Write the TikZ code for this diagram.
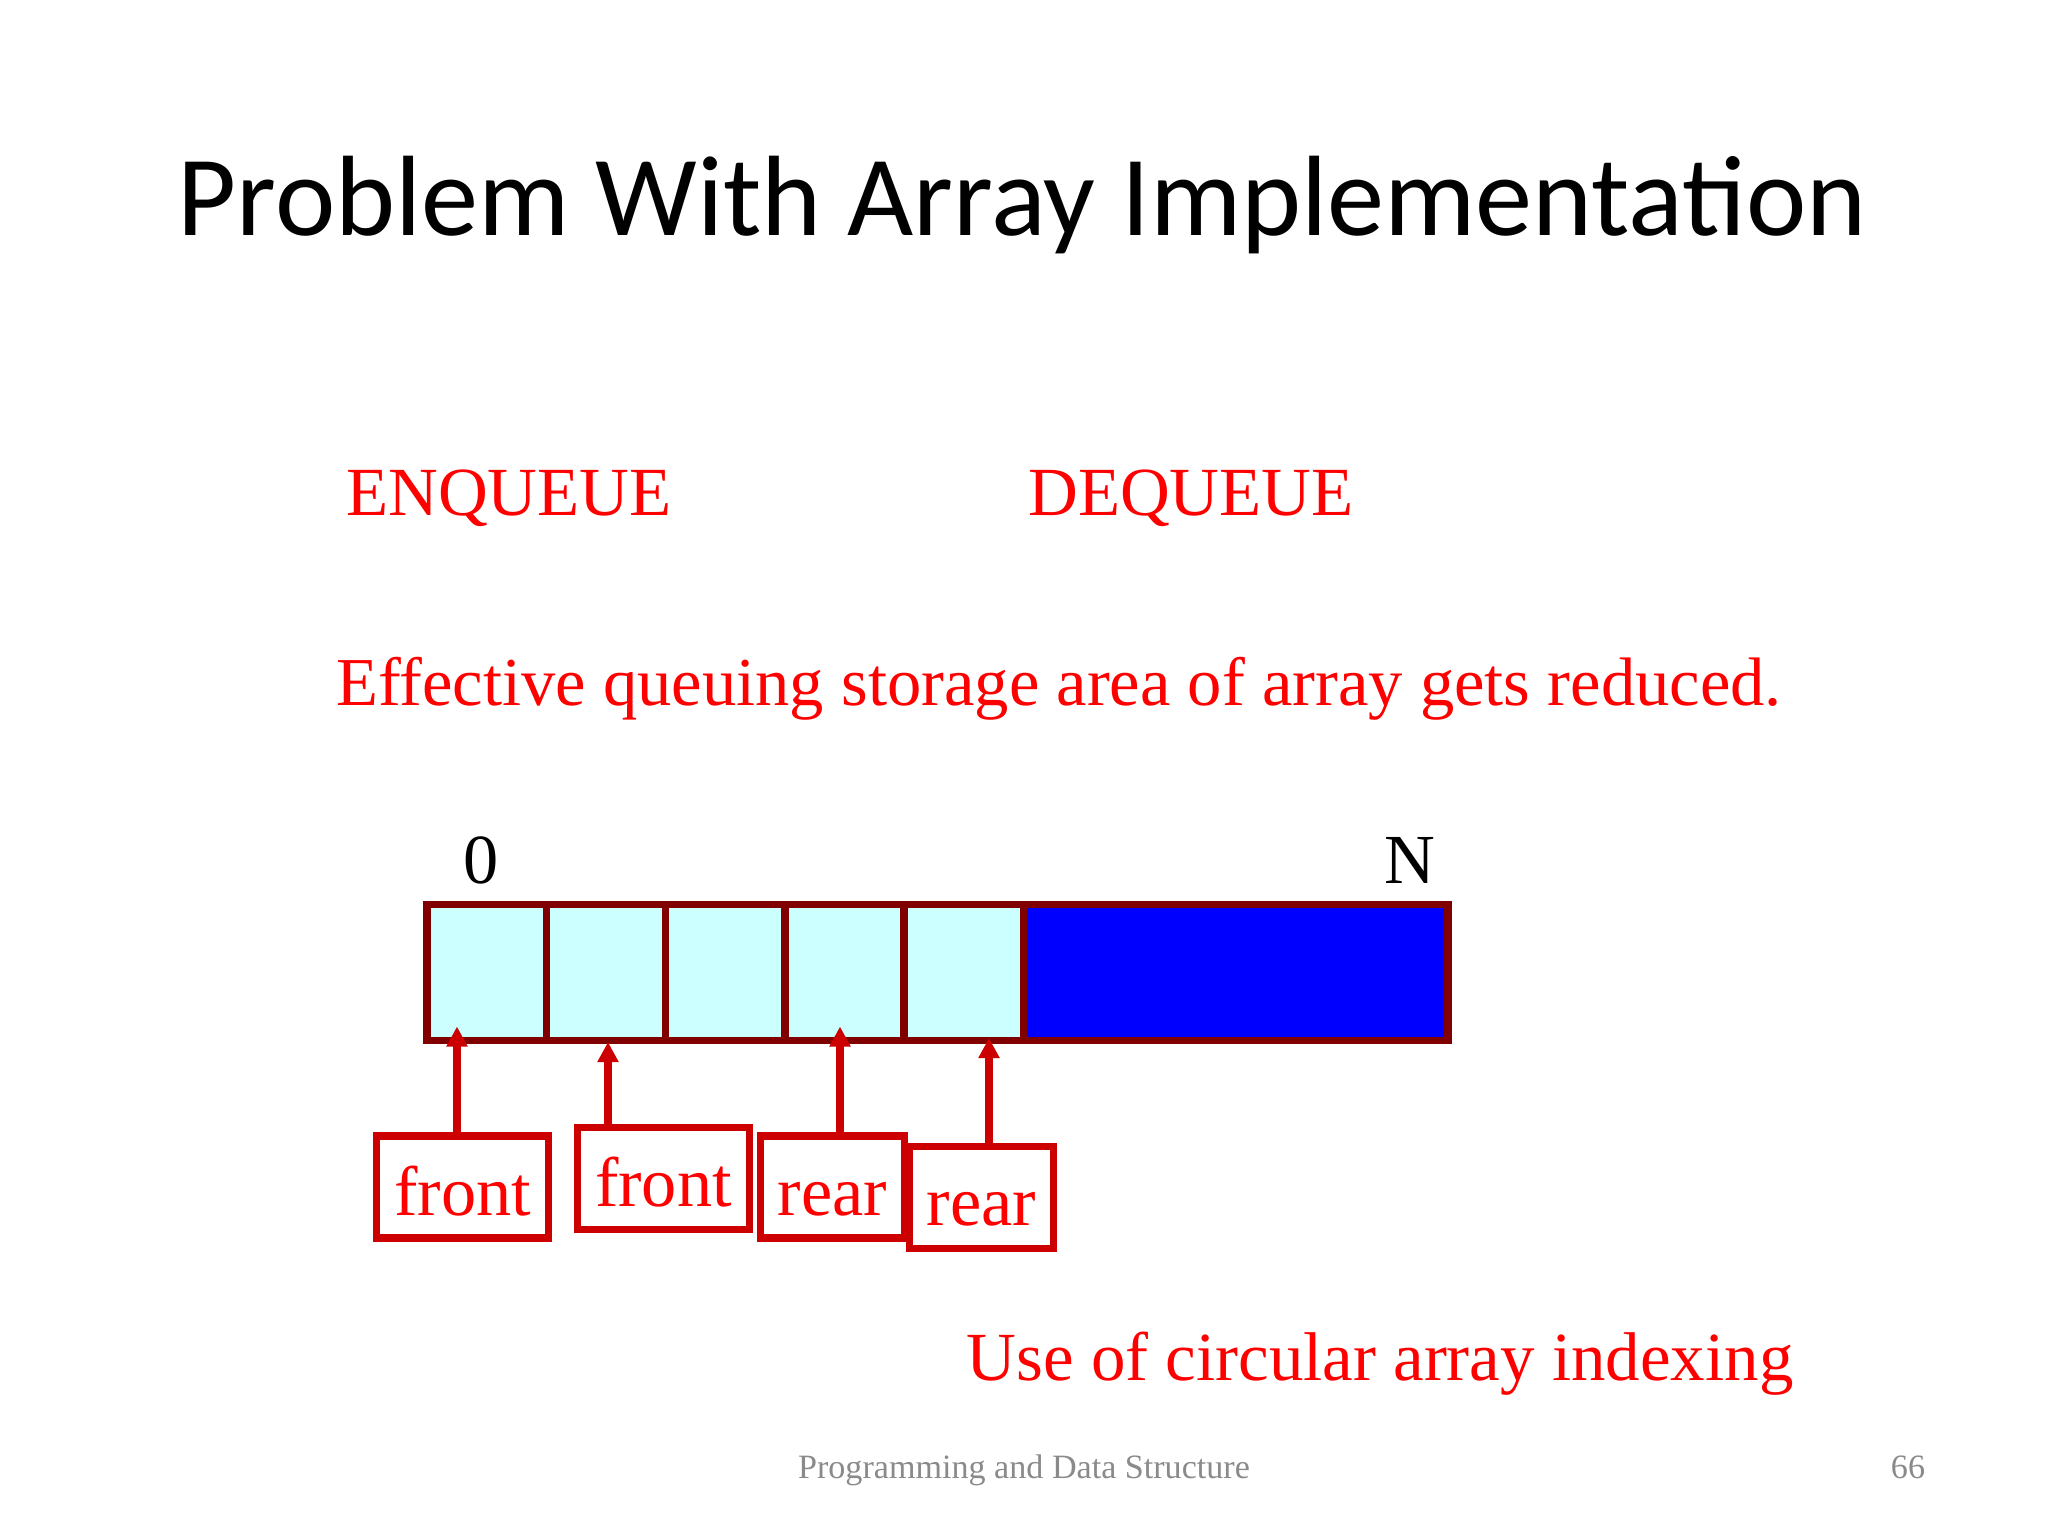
\documentclass[tikz,border=0pt]{standalone}
\usepackage{fontspec}
\setmainfont{Liberation Serif}
\newfontfamily\titlefont{Carlito}
\usetikzlibrary{arrows.meta}
\definecolor{txtred}{HTML}{FF0000}
\definecolor{boxred}{HTML}{CC0000}
\definecolor{maroon}{HTML}{800000}
\definecolor{cellcyan}{HTML}{CCFFFF}
\definecolor{footgray}{HTML}{8A8A8A}

\begin{document}
\begin{tikzpicture} [x=0.01cm, y=-0.01cm,
 			      cell/.style={draw=maroon, line width=2.1pt, fill=cellcyan, minimum width=1.193cm, minimum height=1.36cm, inner sep=0pt, outer sep=0pt},
 			      tag/.style={draw=boxred, line width=2.1pt, text=txtred, inner sep=0pt, minimum height=1.02cm, text height=16pt, text depth=0pt, font=\fontsize{20}{20}\selectfont},
 			      pile/.style={boxred, line width=2.2pt, -{Triangle[length=5.7pt, width=5.7pt]}},
 			      say/.style={anchor=base, text=txtred, inner sep=0pt, font=\fontsize{19.6}{19.6}\selectfont}]
    \useasboundingbox (0,0) rectangle (2048,1536);
    \node[anchor=base, inner sep=0pt, font=\titlefont\fontsize{32.5}{32.5}\selectfont] (title) at (1022,235) {Problem With Array Implementation};
    \node[say] (enq) at (509,515) {ENQUEUE};
    \node[say] (deq) at (1191,515) {DEQUEUE};
    \node[say, font=\fontsize{19.5}{19.5}\selectfont] (eff) at (1059,705) {Effective queuing storage area of array gets reduced.};
    % the array
    \foreach \i in {0,...,4}
        \node[cell] (c\i) at (486.65+119.3*\i,972.5) {};
    \node[cell, fill=blue, minimum width=4.245cm] (rest) at (1235.75,972.5) {};
    \node[say, text=black, font=\fontsize{20}{20}\selectfont] (zero) at (481,883) {0};
    \node[say, text=black, font=\fontsize{20}{20}\selectfont] (last) at (1410,883) {N};
    % front and rear boxes
    \node[tag, minimum width=1.72cm] (fr1) at (462.7,1187) {front};
    \node[tag, minimum width=1.72cm] (fr2) at (663.5,1178.5) {front};
    \node[tag, minimum width=1.44cm] (re1) at (832.5,1187) {rear};
    \node[tag, minimum width=1.44cm] (re2) at (981.5,1197.5) {rear};
    \coordinate (t1) at (457,1026.5);
    \coordinate (t2) at (608,1042);
    \coordinate (t3) at (840,1026.5);
    \coordinate (t4) at (989,1038);
    \draw[pile] (fr1.north -| t1) -- (t1);
    \draw[pile] (fr2.north -| t2) -- (t2);
    \draw[pile] (re1.north -| t3) -- (t3);
    \draw[pile] (re2.north -| t4) -- (t4);
    \node[say] (circ) at (1380,1380) {Use of circular array indexing};
    \node[anchor=base, inner sep=0pt, text=footgray, font=\fontsize{9.7}{9.7}\selectfont] (foot) at (1024,1478) {Programming and Data Structure};
    \node[anchor=base, inner sep=0pt, text=footgray, font=\fontsize{9.7}{9.7}\selectfont] (page) at (1908,1478) {66};
\end{tikzpicture}
\end{document}
